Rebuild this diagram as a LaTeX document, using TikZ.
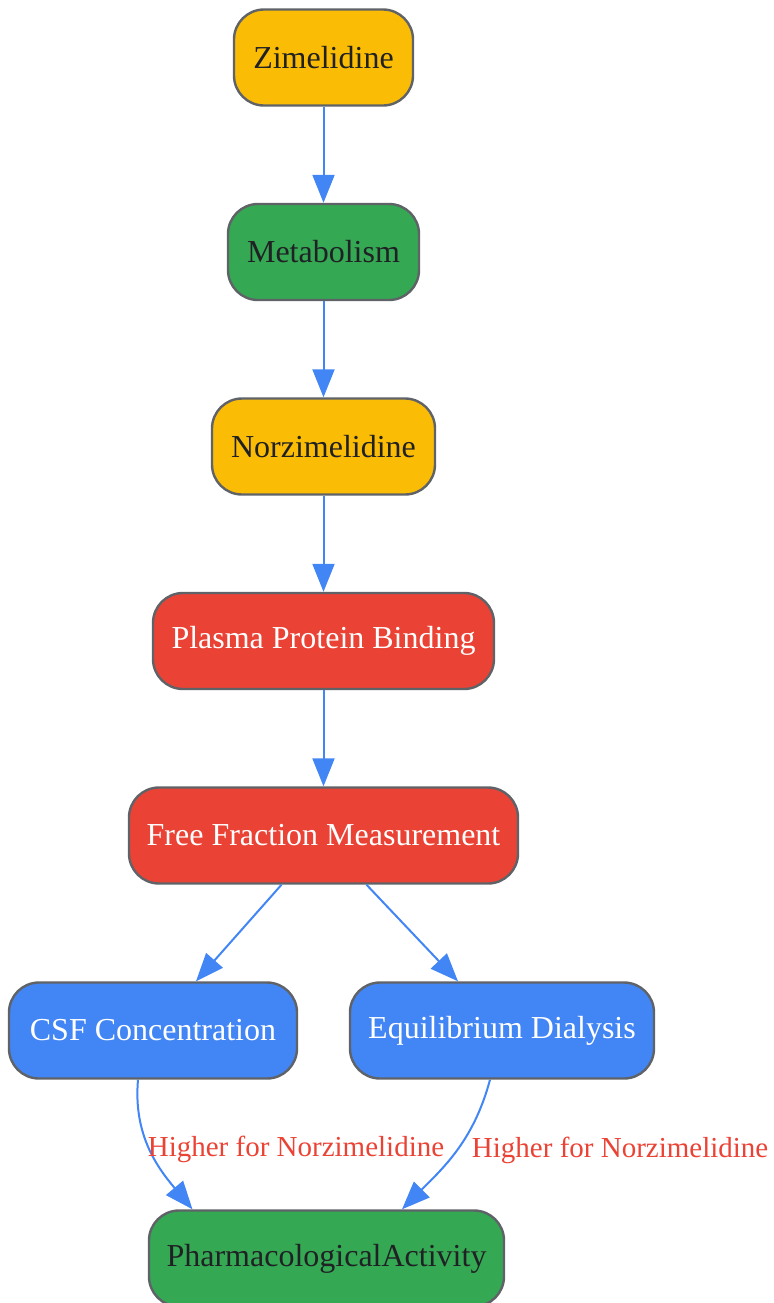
\documentclass[tikz,border=0pt]{standalone}
\usepackage{fontspec}
\setmainfont{Liberation Serif}
\usetikzlibrary{arrows.meta,positioning}

\definecolor{gyellow}{HTML}{FBBC05}
\definecolor{ggreen}{HTML}{34A853}
\definecolor{gred}{HTML}{EA4335}
\definecolor{gblue}{HTML}{4285F4}
\definecolor{gborder}{HTML}{5F6368}
\definecolor{gtext}{HTML}{202124}

\tikzset{
  box/.style={draw=gborder, line width=1.2pt, rounded corners=15pt,
    minimum height=48pt, inner xsep=8pt, font=\fontsize{16}{19}\selectfont},
  yellowbox/.style={box, fill=gyellow, text=gtext},
  greenbox/.style={box, fill=ggreen, text=gtext},
  redbox/.style={box, fill=gred, text=white},
  bluebox/.style={box, fill=gblue, text=white},
  lbl/.style={text=gred, font=\fontsize{14.5}{17}\selectfont, anchor=west}
}

\begin{document}
\begin{tikzpicture}[%
x=0.5pt, y=-0.5pt,
>={Triangle[length=14pt,width=11pt]},
node distance=97.25pt,
on grid,
every edge/.style={draw=gblue, line width=1pt}
]
\useasboundingbox (0,0) rectangle (773,1303);

\node[yellowbox, minimum width=89.5pt] (zim) at (323.5,57.5) {Zimelidine};
\node[greenbox, minimum width=95.5pt] (met) [below=of zim] {Metabolism};
\node[yellowbox, minimum width=111.5pt] (norzim) [below=of met] {Norzimelidine};
\node[redbox, minimum width=170.5pt] (ppb) [below=of norzim] {Plasma Protein Binding};
\node[redbox, minimum width=194.5pt] (ffm) [below=of ppb] {Free Fraction Measurement};
\node[bluebox, minimum width=144pt] (csf) [below left=97.5pt and 85.25pt of ffm] {CSF Concentration};
\node[bluebox, minimum width=152pt] (eqd) [below right=97.5pt and 89.25pt of ffm] {Equilibrium Dialysis};
\node[greenbox, minimum width=177.5pt] (pharm) [below=211.5pt of ffm, xshift=1.5pt] {PharmacologicalActivity};

\path[->] (zim) edge (met);
\path[->] (met) edge (norzim);
\path[->] (norzim) edge (ppb);
\path[->] (ppb) edge (ffm);
\path[->] ([xshift=-21pt]ffm.south) edge ([xshift=21.5pt]csf.north);
\path[->] ([xshift=21.5pt]ffm.south) edge ([xshift=-22pt]eqd.north);
\path[->] ([xshift=-7.5pt]csf.south) edge[out=-95, in=130]
  node[lbl, pos=0.5, xshift=-5pt] {Higher for Norzimelidine} ([xshift=-67pt]pharm.north);
\path[->] ([xshift=-6pt]eqd.south) edge[out=-105, in=45]
  node[lbl, pos=0.5, xshift=4pt] {Higher for Norzimelidine} ([xshift=37.75pt]pharm.north);

\end{tikzpicture}
\end{document}
